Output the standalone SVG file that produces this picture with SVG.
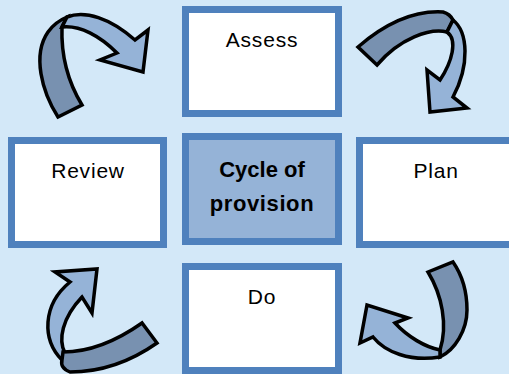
<svg xmlns="http://www.w3.org/2000/svg" width="509" height="374" viewBox="0 0 509 374">
<style>
.box{fill:#ffffff;stroke:#4f81bd;stroke-width:7}
.core{fill:#95b3d7;stroke:#4f81bd;stroke-width:7}
.lbl{font-family:"Liberation Sans",Arial,sans-serif;font-size:21px;letter-spacing:0.8px;fill:#000;text-anchor:middle}
.title{font-family:"Liberation Sans",Arial,sans-serif;font-size:22px;font-weight:bold;fill:#000;text-anchor:middle}
.lt{fill:#95b3d7;stroke:#000;stroke-width:3.5;stroke-linejoin:miter}
.dk{fill:#7891b0;stroke:#000;stroke-width:3.5;stroke-linejoin:miter}
</style>
<rect x="0" y="0" width="509" height="374" fill="#d3e8f8"/>
<g id="connectors">
  <g id="arrow-top-left">
    <path class="dk" d="M58,117 C42,92 32,55 48,32 Q55,22 67,17 L62,27 C61,55 68,82 82,105 Z"/>
    <path class="lt" d="M67,17 C85,10 110,18 135,40 L148,30 L143,72 L100,60 L117,53 C100,36 80,25 62,27 Z"/>
  </g>
  <g id="arrow-top-right">
    <path class="dk" d="M358,47 C380,28 410,10 443,12 Q450,14 453,20 L447,32 C430,28 400,38 377,65 Z"/>
    <path class="lt" d="M453,20 C468,32 470,65 453,97 L467,108 L430,112 L427,70 L440,80 C452,62 458,40 447,32 Z"/>
  </g>
  <g id="arrow-bottom-left">
    <path class="lt" d="M62,360 C42,340 42,305 70,282 L55,272 L97,269 L92,313 L82,297 C62,318 58,340 65,353 Z"/>
    <path class="dk" d="M63,352 C90,352 115,342 142,323 L157,343 C130,362 100,372 70,372 Q60,368 62,360 Z"/>
  </g>
  <g id="arrow-bottom-right">
    <path class="dk" d="M428,272 C442,295 448,325 440,350 L440,357 C455,350 467,330 467,310 C467,290 462,275 453,262 Z"/>
    <path class="lt" d="M440,350 C425,347 408,337 395,323 L408,318 L367,305 L360,343 L373,337 C385,352 410,362 440,357 Z"/>
  </g>
</g>
<g id="assess">
  <rect class="box" x="185.5" y="9.5" width="153" height="104"/>
  <text class="lbl" x="262" y="47">Assess</text>
</g>
<g id="review">
  <rect class="box" x="11.5" y="140.5" width="152" height="104"/>
  <text class="lbl" x="88" y="178">Review</text>
</g>
<g id="plan">
  <rect class="box" x="359.5" y="140.5" width="153" height="104"/>
  <text class="lbl" x="436" y="178">Plan</text>
</g>
<g id="do">
  <rect class="box" x="185.5" y="266.5" width="153" height="104"/>
  <text class="lbl" x="262" y="304">Do</text>
</g>
<g id="cycle">
  <rect class="core" x="185.5" y="136.5" width="153" height="105"/>
  <text class="title" x="262" y="177">Cycle of</text>
  <text class="title" x="262" y="211" letter-spacing="0.6">provision</text>
</g>
</svg>
